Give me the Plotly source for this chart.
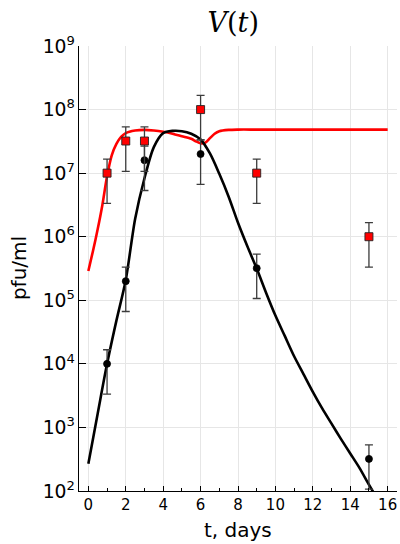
import plotly.graph_objects as go

# Measured data (pfu/ml)
t_obs = [1, 2, 3, 6, 9, 15]
v_black = [1e4, 2e5, 1.6e7, 2e7, 3.2e5, 3.2e2]
v_red = [1e7, 3.2e7, 3.2e7, 1e8, 1e7, 1e6]

# Model curves (log10 of V)
t_black_curve = [0, 0.5, 1, 1.5, 2, 2.5, 3, 3.5, 4, 4.5, 5, 5.5, 6, 6.5, 7, 7.5, 8,
                 8.5, 9, 9.5, 10, 10.5, 11, 11.5, 12, 12.5, 13, 13.5, 14, 14.5, 15, 15.5]
log_black_curve = [2.43, 3.22, 4.0, 4.68, 5.32, 6.28, 6.92, 7.41, 7.63, 7.665, 7.66, 7.62,
                   7.53, 7.31, 6.99, 6.63, 6.22, 5.85, 5.50, 5.12, 4.76, 4.44, 4.12, 3.84,
                   3.56, 3.30, 3.06, 2.82, 2.59, 2.36, 2.10, 1.85]

t_red_curve = [0, 0.25, 0.5, 0.75, 1, 1.25, 1.5, 1.75, 2, 2.5, 3, 3.5, 4, 4.5, 5, 5.5,
               5.75, 6, 6.25, 6.5, 6.75, 7, 7.5, 8, 9, 10, 11, 12, 13, 14, 15, 16]
log_red_curve = [5.46, 5.78, 6.12, 6.5, 6.95, 7.28, 7.46, 7.57, 7.63, 7.67, 7.68, 7.67,
                 7.65, 7.62, 7.58, 7.54, 7.50, 7.47, 7.48, 7.55, 7.62, 7.66, 7.68, 7.685,
                 7.685, 7.685, 7.685, 7.685, 7.685, 7.685, 7.685, 7.685]

x_ticks = [0, 2, 4, 6, 8, 10, 12, 14, 16]

black_curve = [10 ** v for v in log_black_curve]
red_curve = [10 ** v for v in log_red_curve]

err_color = "#3c3c3c"

fig = go.Figure()

fig.add_trace(go.Scatter(x=t_red_curve, y=red_curve, mode="lines",
                         line=dict(color="#ff0000", width=2.6, shape="spline", smoothing=0.8),
                         showlegend=False, hoverinfo="skip"))
fig.add_trace(go.Scatter(x=t_black_curve, y=black_curve, mode="lines",
                         line=dict(color="#000000", width=2.6, shape="spline", smoothing=0.8),
                         showlegend=False, hoverinfo="skip"))

fig.add_trace(go.Scatter(
    x=t_obs, y=v_black, mode="markers",
    marker=dict(symbol="circle", size=7, color="black", line=dict(color="black", width=0.8)),
    error_y=dict(type="data", array=[v * 2 / 3 for v in v_black],
                 arrayminus=[v * 2 / 3 for v in v_black],
                 color=err_color, thickness=1.3, width=4),
    showlegend=False))
fig.add_trace(go.Scatter(
    x=t_obs, y=v_red, mode="markers",
    marker=dict(symbol="square", size=8, color="#ff0000", line=dict(color="#222222", width=0.9)),
    error_y=dict(type="data", array=[v * 2 / 3 for v in v_red],
                 arrayminus=[v * 2 / 3 for v in v_red],
                 color=err_color, thickness=1.3, width=4),
    showlegend=False))

fig.update_layout(
    width=400, height=544,
    margin=dict(l=79, r=3, t=46, b=53, autoexpand=False),
    paper_bgcolor="white", plot_bgcolor="white",
    font=dict(family="DejaVu Sans", color="black"),
    title=dict(text="<i>V</i>(<i>t</i>)", xref="container", x=0.583, xanchor="center",
               y=0.958, yanchor="middle",
               font=dict(family="DejaVu Serif", size=27, color="black")),
    showlegend=False,
    annotations=[
        dict(text="pfu/ml", xref="paper", yref="paper", x=-0.19, y=0.5,
             xanchor="center", yanchor="middle", textangle=-90, showarrow=False,
             font=dict(size=20)),
        dict(text="t, days", xref="paper", yref="paper", x=0.5, y=-0.088,
             xanchor="center", yanchor="middle", showarrow=False,
             font=dict(size=20)),
    ],
)

fig.update_xaxes(
    range=[-0.5, 16.5], tickvals=x_ticks, ticktext=[str(v) for v in x_ticks],
    showgrid=True, gridcolor="#e6e6e6", gridwidth=1,
    showline=True, linecolor="black", linewidth=1.2, mirror=False,
    ticks="inside", ticklen=5, tickcolor="black", tickwidth=1,
    minor=dict(dtick=1, tick0=0, ticks="inside", ticklen=3, tickcolor="black", showgrid=False),
    tickfont=dict(size=15), zeroline=False, automargin=False,
)
fig.update_yaxes(
    type="log", range=[2, 9], dtick=1, exponentformat="power",
    showgrid=True, gridcolor="#e6e6e6", gridwidth=1,
    showline=True, linecolor="black", linewidth=1.2, mirror=False,
    ticks="inside", ticklen=7, tickcolor="black", tickwidth=1,
    tickfont=dict(size=15), zeroline=False, automargin=False,
)

fig.write_html("out.html", config={"displayModeBar": False},
               post_script="document.body.style.margin='0';document.body.style.padding='0';")
